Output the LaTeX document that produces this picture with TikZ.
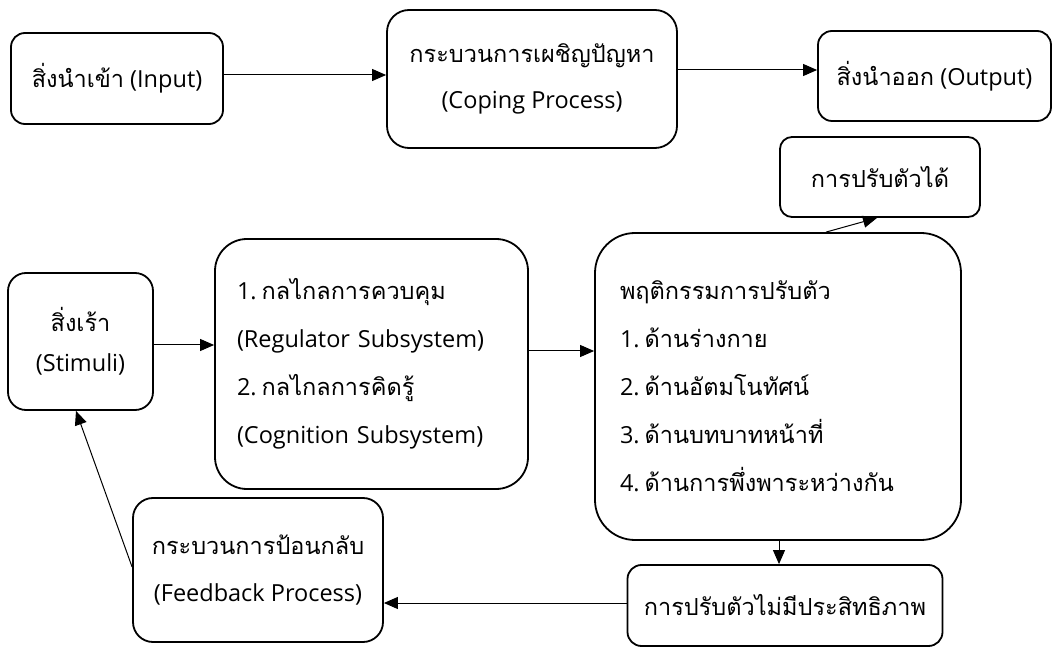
\documentclass[tikz,border=0pt]{standalone}
\usepackage{fontspec}
\setmainfont{Open Sans}
\newfontfamily\thf[Script=Thai]{Loma}
\usetikzlibrary{arrows.meta}
\newcommand\numsp{\hspace{5pt}}
\begin{document}
\begin{tikzpicture}[x=1pt,y=-1pt,
  box/.style={draw, line width=1.8pt, rounded corners=#1, inner sep=0pt,
    font=\fontsize{23.5}{46}\selectfont},
  box/.default=14pt,
  arr/.style={-{Triangle[length=14pt,width=12pt]}, line width=1pt}]
\useasboundingbox (0,0) rectangle (1061,652);

\node[box, minimum width=212pt, minimum height=91pt, align=center] (input) at (117,78.5)
  {{\thf สิ่งนำเข้า} (Input)};
\node[box=22pt, minimum width=290pt, minimum height=138pt, align=center] (coping) at (532,79)
  {{\thf กระบวนการเผชิญปัญหา}\\(Coping Process)};
\node[box, minimum width=233pt, minimum height=90pt, align=center] (output) at (934.5,76)
  {{\thf สิ่งนำออก} (Output)};
\node[box=12pt, minimum width=200pt, minimum height=80pt, align=center] (adapt) at (880,177)
  {\thf การปรับตัวได้};
\node[box=18pt, minimum width=145pt, minimum height=137pt, align=center,
  font=\fontsize{23.5}{40}\selectfont] (stim) at (80.5,341.5)
  {{\thf สิ่งเร้า}\\(Stimuli)};
\node[box=32pt, minimum height=250pt, inner xsep=22pt, text width=269pt, align=left,
  font=\fontsize{23.5}{48}\selectfont] (reg) at (371.5,364)
  {1.\numsp{\thf กลไกลการควบคุม}\\(Regulator Subsystem)\\2.\numsp{\thf กลไกลการคิดรู้}\\(Cognition Subsystem)};
\node[box=40pt, minimum height=307pt, inner xsep=25pt, text width=316pt, align=left,
  font=\fontsize{23.5}{48}\selectfont] (beh) at (778,386.5)
  {{\thf พฤติกรรมการปรับตัว}\\1.\numsp{\thf ด้านร่างกาย}\\2.\numsp{\thf ด้านอัตมโนทัศน์}\\3.\numsp{\thf ด้านบทบาทหน้าที่}\\4.\numsp{\thf ด้านการพึ่งพาระหว่างกัน}};
\node[box, minimum width=315pt, minimum height=81pt, align=center] (ineff) at (785,605.5)
  {\thf การปรับตัวไม่มีประสิทธิภาพ};
\node[box=20pt, minimum width=250pt, minimum height=144pt, align=center,
  font=\fontsize{23.5}{47}\selectfont] (fb) at (258,570)
  {{\thf กระบวนการป้อนกลับ}\\(Feedback Process)};

\draw[arr] (input.east |- 0,75) -- (coping.west |- 0,75);
\draw[arr] (coping.east |- 0,70) -- (output.west |- 0,70);
\draw[arr] (stim.east |- 0,345) -- (reg.west |- 0,345);
\draw[arr] (reg.east |- 0,351) -- (beh.west |- 0,351);
\draw[arr] (826,0 |- beh.north) -- (877,0 |- adapt.south);
\draw[arr] (779,0 |- beh.south) -- (779,0 |- ineff.north);
\draw[arr] (ineff.west |- 0,603) -- (fb.east |- 0,603);
\draw[arr] (fb.west |- 0,567) -- (76,0 |- stim.south);
\end{tikzpicture}
\end{document}
